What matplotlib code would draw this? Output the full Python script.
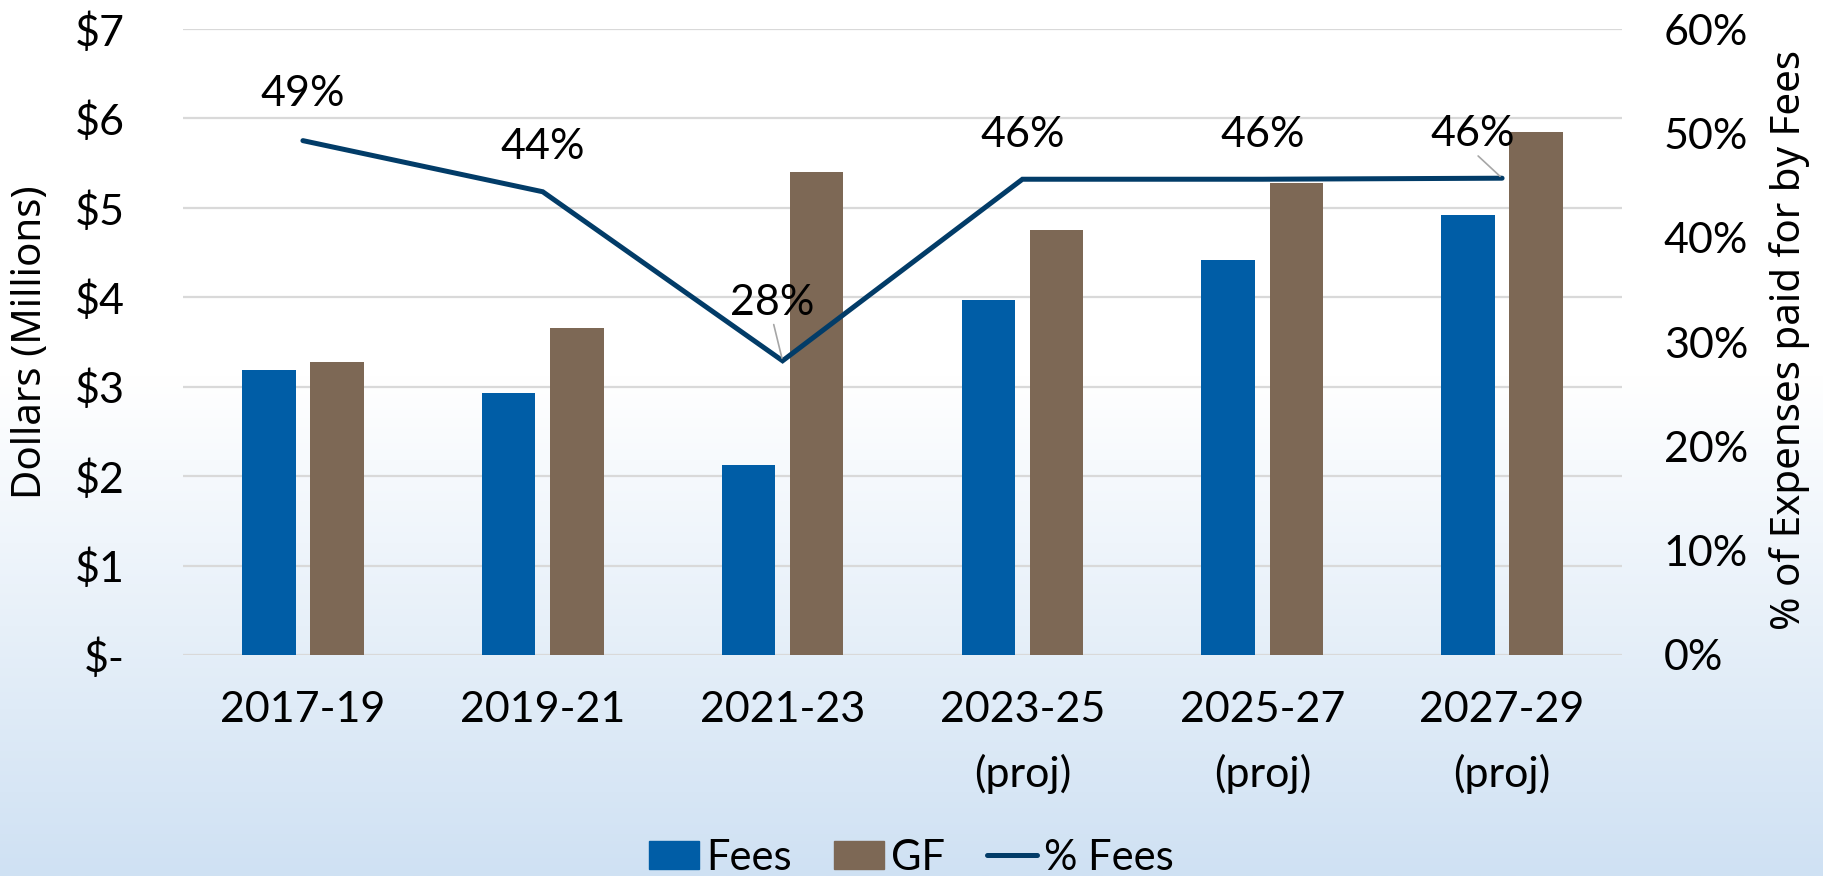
import numpy as np
import matplotlib
matplotlib.use('Agg')
import matplotlib.pyplot as plt
from matplotlib.patches import Patch
from matplotlib.lines import Line2D
from matplotlib.ticker import FuncFormatter
from matplotlib.colors import to_rgb

# data
periods = ['2017-19', '2019-21', '2021-23', '2023-25\n(proj)', '2025-27\n(proj)', '2027-29\n(proj)']
fees = [3.19, 2.93, 2.12, 3.97, 4.42, 4.92]          # $ millions
gf = [3.28, 3.66, 5.40, 4.75, 5.28, 5.85]            # $ millions
pct_fees = [0.493, 0.444, 0.282, 0.456, 0.456, 0.457]

# label offsets (pixels) relative to the line point, and which ones get a leader line
label_offsets = [(0, 47), (0, 45), (-10, 58), (0, 44), (0, 44), (-29, 44)]
leader = [False, False, True, False, False, True]

FEES_COLOR = '#005DA6'
GF_COLOR = '#7D6855'
LINE_COLOR = '#023C68'
GRID_COLOR = '#D9D9D9'
TICK_FONT = 'Lato'
TITLE_FONT = 'Noto Sans'


def main():
    fig = plt.figure(figsize=(18.23, 8.76), dpi=100)

    # background: white at top fading to light blue at the bottom
    bg = fig.add_axes([0, 0, 1, 1], zorder=-10)
    n = 400
    t = np.linspace(0, 1, n)            # 0 = top, 1 = bottom
    f = np.clip((t - 0.43) / 0.57, 0, 1)
    top = np.array(to_rgb('#FFFFFF'))
    bot = np.array(to_rgb('#CFE1F3'))
    grad = top[None, :] * (1 - f[:, None]) + bot[None, :] * f[:, None]
    bg.imshow(grad[:, None, :], aspect='auto', extent=[0, 1, 0, 1])
    bg.axis('off')

    ax = fig.add_axes([183 / 1823, 1 - 655 / 876, 1439 / 1823, 626 / 876])
    ax.patch.set_alpha(0)
    x = np.arange(len(periods))
    w = 0.223
    ax.bar(x - 0.142, fees, width=w, color=FEES_COLOR, zorder=3)
    ax.bar(x + 0.142, gf, width=w, color=GF_COLOR, zorder=3)

    ax.set_xlim(-0.5, len(periods) - 0.5)
    ax.set_ylim(0, 7)
    ax.set_yticks(range(0, 8))
    ax.yaxis.set_major_formatter(FuncFormatter(lambda v, p: '$-' if v == 0 else f'${v:.0f}'))
    ax.grid(axis='y', color=GRID_COLOR, lw=1.6, zorder=0)
    ax.set_axisbelow(True)
    for s in ax.spines.values():
        s.set_visible(False)
    ax.set_xticks(x)
    ax.set_xticklabels(periods, fontsize=31, family=TICK_FONT, linespacing=1.75)
    ax.tick_params(axis='x', length=0, pad=26)
    ax.tick_params(axis='y', length=0, pad=42, labelsize=31)
    for lbl in ax.get_yticklabels():
        lbl.set_family(TICK_FONT)

    ax2 = ax.twinx()
    ax2.set_ylim(0, 0.6)
    ax2.set_yticks(np.arange(0, 0.61, 0.1))
    ax2.yaxis.set_major_formatter(FuncFormatter(lambda v, p: f'{v:.0%}'))
    ax2.tick_params(axis='y', length=0, pad=30, labelsize=31)
    for lbl in ax2.get_yticklabels():
        lbl.set_family(TICK_FONT)
    for s in ax2.spines.values():
        s.set_visible(False)
    ax2.plot(x, pct_fees, color=LINE_COLOR, lw=3.6, solid_capstyle='round',
             solid_joinstyle='miter', zorder=4)

    for xi, p, off, ld in zip(x, pct_fees, label_offsets, leader):
        arrow = None
        if ld:
            arrow = dict(arrowstyle='-', color='#A6A6A6', lw=1.2,
                         shrinkA=0, shrinkB=2, relpos=(0.5, 0.05))
        ax2.annotate(f'{p:.0%}', xy=(xi, p), xytext=off, textcoords='offset pixels',
                     ha='center', va='center', fontsize=31, family=TICK_FONT,
                     arrowprops=arrow, zorder=5)

    fig.text(31 / 1823, 1 - 342 / 876, 'Dollars (Millions)', rotation=90,
             ha='center', va='center', fontsize=29, family=TITLE_FONT)
    fig.text(1790 / 1823, 1 - 340 / 876, '% of Expenses paid for by Fees', rotation=90,
             ha='center', va='center', fontsize=29, family=TITLE_FONT)

    handles = [Patch(color=FEES_COLOR, label='Fees'),
               Patch(color=GF_COLOR, label='GF'),
               Line2D([0], [0], color=LINE_COLOR, lw=3.6, solid_capstyle='round', label='% Fees')]
    fig.legend(handles=handles, loc='center', bbox_to_anchor=(0.5, 0.021), ncol=3,
               frameon=False, prop={'family': TICK_FONT, 'size': 30},
               handlelength=1.2, handleheight=0.65, handletextpad=0.18,
               columnspacing=1.0)

    plt.savefig('out.png', dpi=100)
    plt.close()


if __name__ == "__main__":
    main()
